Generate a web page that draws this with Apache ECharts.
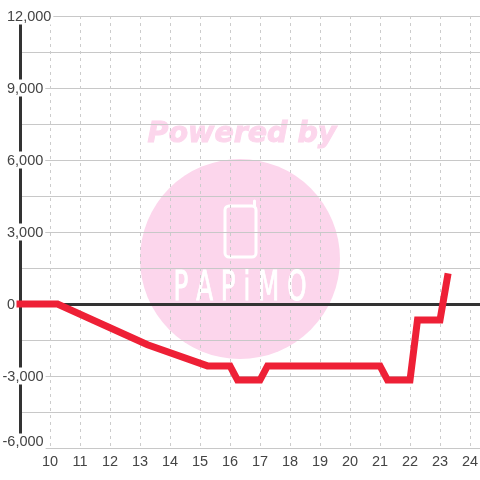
<!DOCTYPE html>
<html><head><meta charset="utf-8">
<style>html,body{margin:0;padding:0;background:#fff}#c{width:480px;height:480px}</style>
<script src="https://cdn.jsdelivr.net/npm/echarts@6/dist/echarts.min.js"></script>
</head><body><div id="c"></div>
<script>
const hours = [9, 10.25, 13.25, 15.25, 16, 16.25, 17, 17.25, 21, 21.25, 22, 22.25, 23, 23.25];
const values = [0, 0, -1700, -2580, -2580, -3170, -3170, -2580, -2580, -3170, -3170, -670, -670, 1130];
const xMin = 9, xMax = 25;
const yMin = -6000, yMax = 12000, yStep = 1500, yLabelStep = 3000;
const chart = echarts.init(document.getElementById('c'), null, {renderer:'canvas'});
const pink = '#fcd6ec';
const font = '"Liberation Sans", Arial, sans-serif';
const fs = 14.5;
chart.setOption({
  animation:false, backgroundColor:'#fff',
  grid:{left:20,top:16,width:480,height:432,containLabel:false,outerBoundsMode:'none'},
  xAxis:[
    {type:'value',position:'top',min:xMin,max:xMax,interval:1,
     axisLine:{show:true,onZero:true,lineStyle:{color:'#333',width:3}},
     axisTick:{show:false},axisLabel:{show:false},splitLine:{show:false}},
    {type:'value',position:'bottom',min:xMin,max:xMax,interval:1,
     axisLine:{show:false,onZero:false},axisTick:{show:false},
     axisLabel:{show:true,margin:6,fontSize:fs,fontFamily:font,color:'#444',
       showMinLabel:true,showMaxLabel:true,
       formatter:v=>(v===xMin||v===xMax)?'':String(v)},
     splitLine:{show:true,lineStyle:{color:'#ccc',width:1,type:[3,4]}}}
  ],
  yAxis:{type:'value',min:yMin,max:yMax,interval:yStep,
    axisLine:{show:true,onZero:false,lineStyle:{color:'#333',width:3}},
    axisTick:{show:false},
    splitLine:{show:true,lineStyle:{color:'#c8c8c8',width:1}},
    axisLabel:{show:true,align:'left',margin:17.5,fontSize:fs,fontFamily:font,color:'#444',
      showMinLabel:true,showMaxLabel:true,hideOverlap:false,
      formatter:v=>{
        if(v%yLabelStep!==0) return '';
        const s=v.toLocaleString('en-US');
        if(v===yMin) return '{low|'+s+'}';
        return (v<0?'{neg|':'{pos|')+s+'}';
      },
      rich:{
        pos:{backgroundColor:'#fff',padding:[2,2,0,4.5],fontSize:fs,fontFamily:font,color:'#444'},
        neg:{backgroundColor:'#fff',padding:[2,2,0,0],fontSize:fs,fontFamily:font,color:'#444'},
        low:{backgroundColor:'#fff',padding:[1,2,13,0],fontSize:fs,fontFamily:font,color:'#444'}
      }}},
  graphic:{elements:[
    {type:'circle',z:-1,silent:true,shape:{cx:240,cy:259,r:100},style:{fill:pink}},
    {type:'text',z:-1,silent:true,x:242,y:135,style:{text:'Powered by',fill:pink,stroke:pink,lineWidth:1,align:'center',verticalAlign:'middle',
      font:'italic bold 28.5px "DejaVu Sans"'}},
    {type:'rect',z:-1,silent:true,shape:{x:225,y:206,width:31,height:51,r:4},style:{fill:'none',stroke:'#fff',lineWidth:3}},
    {type:'line',z:-1,silent:true,shape:{x1:254.5,y1:206,x2:254.5,y2:201},style:{stroke:'#fff',lineWidth:3,lineCap:'round'}},
    {type:'text',z:-1,silent:true,x:240,y:289,scaleX:0.6,style:{text:'P A P i M O',fill:'#fff',stroke:'#fff',lineWidth:1,align:'center',verticalAlign:'middle',
      font:'41px "DejaVu Sans"'}}
  ]},
  series:[{type:'line',xAxisIndex:0,data:hours.map((h,i)=>[h,values[i]]),showSymbol:false,symbol:'none',clip:false,
    lineStyle:{color:'#ee2036',width:7,cap:'square',join:'miter'}}]
});
</script></body></html>
